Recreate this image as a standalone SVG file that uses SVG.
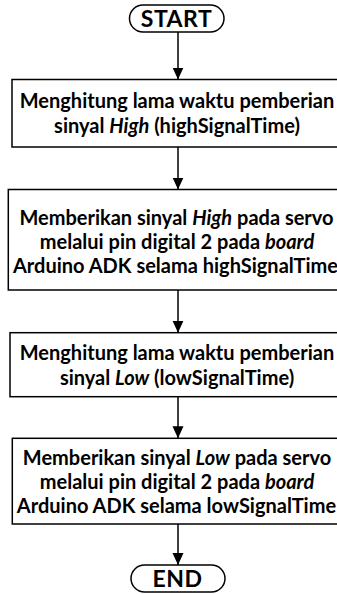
<svg xmlns="http://www.w3.org/2000/svg" width="337" height="594" viewBox="0 0 337 594">
<defs>
<style>
.box{fill:#fff;stroke:#000;stroke-width:1.5}
.t{font-family:Lato,"Liberation Sans",sans-serif;font-weight:bold;font-size:20px;fill:#000;text-anchor:middle}
.s{font-size:23px;letter-spacing:0.5px}
.i{font-style:italic}
.c{stroke:#000;stroke-width:1.5;fill:none}
</style>
<marker id="ah" markerWidth="12" markerHeight="12" viewBox="0 0 12 12" refX="12" refY="6" orient="auto" markerUnits="userSpaceOnUse">
<path d="M0,0.5 L12,6 L0,11.5 Z" fill="#000"/>
</marker>
</defs>
<rect width="337" height="594" fill="#fff"/>
<g id="connectors">
<line class="c" x1="178" y1="32" x2="178" y2="79.5" marker-end="url(#ah)"/>
<line class="c" x1="178" y1="147" x2="178" y2="189.5" marker-end="url(#ah)"/>
<line class="c" x1="178" y1="290" x2="178" y2="332.7" marker-end="url(#ah)"/>
<line class="c" x1="178" y1="396.7" x2="178" y2="438.3" marker-end="url(#ah)"/>
<line class="c" x1="178" y1="524" x2="178" y2="565" marker-end="url(#ah)"/>
</g>
<g id="start">
<rect class="box" x="129.5" y="5" width="94.5" height="27" rx="13.5"/>
<text class="t s" x="176.5" y="26.5">START</text>
</g>
<g id="box1">
<rect class="box" x="12" y="79.5" width="335" height="67.5"/>
<text class="t" x="177" y="108">Menghitung lama waktu pemberian</text>
<text class="t" x="177" y="133">sinyal <tspan class="i">High</tspan> (highSignalTime)</text>
</g>
<g id="box2">
<rect class="box" x="8.3" y="189.5" width="339" height="100.5"/>
<text class="t" x="176.5" y="224.5">Memberikan sinyal <tspan class="i">High</tspan> pada servo</text>
<text class="t" x="177" y="248.5">melalui pin digital 2 pada <tspan class="i">board</tspan></text>
<text class="t" x="175.5" y="272.5">Arduino ADK selama highSignalTime</text>
</g>
<g id="box3">
<rect class="box" x="10" y="332.7" width="337" height="64"/>
<text class="t" x="177" y="359.5">Menghitung lama waktu pemberian</text>
<text class="t" x="177" y="384.5">sinyal <tspan class="i">Low</tspan> (lowSignalTime)</text>
</g>
<g id="box4">
<rect class="box" x="12.3" y="438.3" width="335" height="85.7"/>
<text class="t" x="177" y="464.5">Memberikan sinyal <tspan class="i">Low</tspan> pada servo</text>
<text class="t" x="177" y="488.5">melalui pin digital 2 pada <tspan class="i">board</tspan></text>
<text class="t" x="176.5" y="512.5">Arduino ADK selama lowSignalTime</text>
</g>
<g id="end">
<rect class="box" x="131" y="565" width="94" height="27" rx="13.5"/>
<text class="t s" x="177.5" y="586.5">END</text>
</g>
</svg>
